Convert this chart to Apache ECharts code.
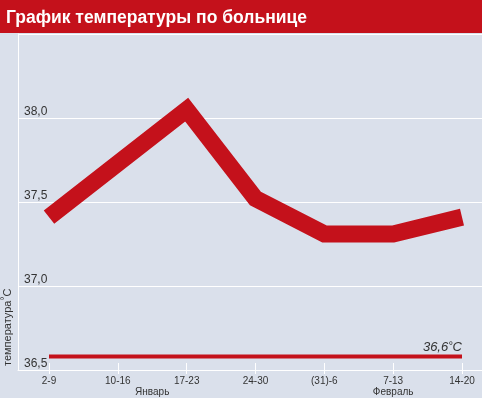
<!DOCTYPE html>
<html>
<head>
<meta charset="utf-8">
<script src="https://cdn.jsdelivr.net/npm/echarts@6/dist/echarts.min.js"></script>
<style>
  html, body { margin: 0; padding: 0; background: #dae0eb; }
  #chart { width: 482px; height: 398px; }
</style>
</head>
<body>
<div id="chart"></div>
<script>
const weeks = ['2-9', '10-16', '17-23', '24-30', '(31)-6', '7-13', '14-20'];
const temps = [37.41, 37.73, 38.05, 37.52, 37.31, 37.31, 37.41];
const normLine = [36.58, 36.58, 36.58, 36.58, 36.58, 36.58, 36.58];
const normLabel = '36,6';
const months = ['Январь', 'Февраль'];
const monthPos = [1.5, 5];

const red = '#c4111b';
const textColor = '#333';
const font = 'Liberation Sans, Arial, sans-serif';

const chart = echarts.init(document.getElementById('chart'), null, { renderer: 'canvas' });

chart.setOption({
  animation: false,
  backgroundColor: '#dae0eb',
  title: {
    text: 'График температуры по больнице',
    left: 1,
    top: 4,
    textStyle: { color: '#fff', fontSize: 17.5, fontWeight: 'bold', fontFamily: font }
  },
  graphic: [{
    type: 'rect',
    z: -1,
    shape: { x: 0, y: 0, width: 482, height: 33 },
    style: { fill: red }
  }],
  grid: [
    { left: 16, right: 0, top: 34, bottom: 28 },
    { left: 49, right: 20, top: 34, bottom: 28 }
  ],
  xAxis: [
    {
      gridIndex: 0,
      type: 'value',
      min: 0,
      max: 1,
      axisLine: { show: true, lineStyle: { color: '#fff', width: 1 } },
      axisTick: { show: false },
      axisLabel: { show: false },
      splitLine: { show: false }
    },
    {
      gridIndex: 1,
      type: 'category',
      position: 'bottom',
      data: weeks,
      boundaryGap: false,
      offset: -7,
      axisLine: { show: false },
      axisTick: { show: true, length: 11, lineStyle: { color: '#fff', width: 1 } },
      axisLabel: { margin: 13, fontSize: 10, color: textColor, fontFamily: font }
    },
    {
      gridIndex: 1,
      type: 'value',
      position: 'bottom',
      min: 0,
      max: 6,
      interval: 0.5,
      axisLine: { show: false },
      axisTick: { show: false },
      splitLine: { show: false },
      axisLabel: {
        margin: 17,
        fontSize: 10,
        color: textColor,
        fontFamily: font,
        formatter: v => {
          const i = monthPos.indexOf(v);
          return i >= 0 ? months[i] : '';
        }
      }
    }
  ],
  yAxis: [
    {
      gridIndex: 0,
      type: 'value',
      min: 36.5,
      max: 38.5,
      interval: 0.5,
      name: 'температура{s|°}C',
      nameLocation: 'start',
      nameRotate: 90,
      nameGap: -4,
      nameTextStyle: {
        align: 'left',
        verticalAlign: 'bottom',
        fontSize: 11,
        color: textColor,
        fontFamily: font,
        padding: [0, 0, 2, 0],
        rich: { s: { fontSize: 10, verticalAlign: 'top', padding: [0, 0, 6, 0], color: textColor } }
      },
      axisLine: { show: true, lineStyle: { color: '#fff', width: 1 } },
      axisTick: { show: false },
      splitLine: { show: true, lineStyle: { color: '#fff', width: 1 } },
      axisLabel: {
        inside: true,
        margin: 6,
        showMaxLabel: false,
        verticalAlign: 'bottom',
        padding: [0, 0, 0, 0],
        fontSize: 12,
        color: textColor,
        fontFamily: font,
        formatter: v => v.toFixed(1).replace('.', ',')
      }
    },
    {
      gridIndex: 1,
      type: 'value',
      min: 36.5,
      max: 38.5,
      show: false
    }
  ],
  series: [
    {
      name: 'Норма',
      type: 'line',
      xAxisIndex: 1,
      yAxisIndex: 1,
      data: normLine,
      symbol: 'circle',
      symbolSize: 0,
      showSymbol: true,
      lineStyle: { color: red, width: 4, cap: 'butt' },
      label: {
        show: true,
        position: 'top',
        align: 'right',
        distance: 3,
        fontSize: 13,
        fontStyle: 'italic',
        color: textColor,
        fontFamily: font,
        formatter: p => p.dataIndex === normLine.length - 1 ? normLabel + '{s|°}C' : '',
        rich: { s: { fontSize: 11, fontStyle: 'italic', verticalAlign: 'top', color: textColor } }
      }
    },
    {
      name: 'Температура',
      type: 'line',
      xAxisIndex: 1,
      yAxisIndex: 1,
      data: temps,
      symbol: 'none',
      lineStyle: { color: red, width: 17, join: 'miter', cap: 'butt', miterLimit: 10 }
    }
  ]
});
</script>
</body>
</html>
